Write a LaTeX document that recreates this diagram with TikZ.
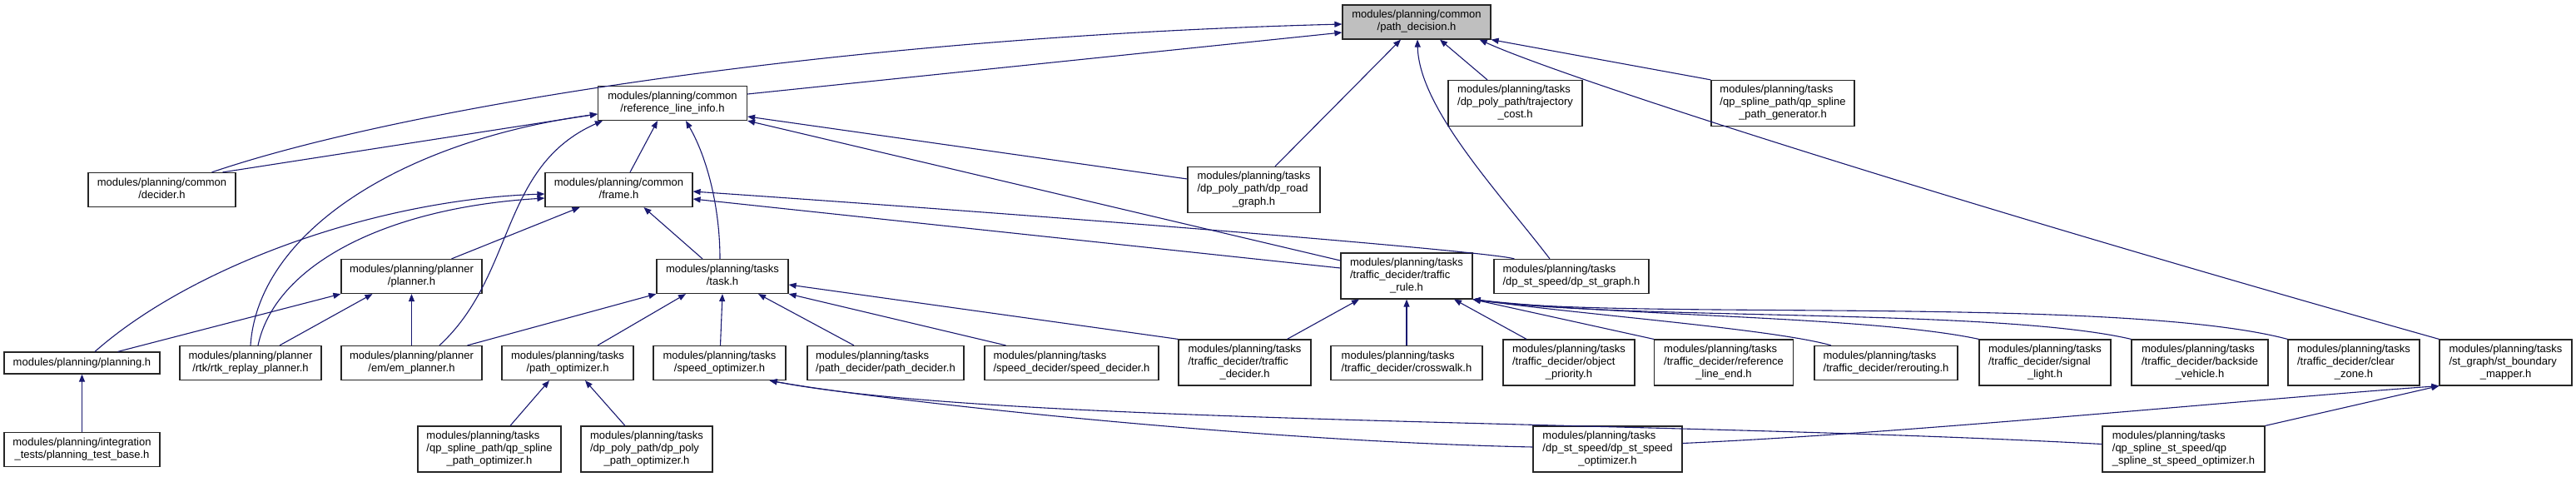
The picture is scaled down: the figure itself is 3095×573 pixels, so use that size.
\documentclass[tikz,border=0pt]{standalone}
\usepackage{fontspec}
\setmainfont{Liberation Sans}
\usetikzlibrary{arrows.meta}
\definecolor{EdgeBlue}{RGB}{25,25,112}
\definecolor{HeadGray}{RGB}{191,191,191}
\newcommand{\lbl}[2]{\begin{tabular}{@{}l@{}}#1\\\multicolumn{1}{@{}c@{}}{#2}\end{tabular}}

\begin{document}
\begin{tikzpicture}[x=1bp,y=-1bp,>={Triangle[length=9bp,width=7bp]},
    file/.style={draw=black!85,fill=white,line width=1.2bp,inner sep=0pt,
      font=\fontsize{13bp}{15bp}\selectfont},
    one/.style={minimum height=26bp},
    two/.style={minimum height=41bp},
    three/.style={minimum height=55bp},
    dep/.style={->,EdgeBlue,line width=1.1bp}]
  \fill[white] (0,0) rectangle (3095,573);
  \useasboundingbox (0,0) rectangle (3095,573);

  \node[file,two,fill=HeadGray,minimum width=178bp] (pathdec) at (1702,26.5) {\lbl{modules/planning/common}{/path\_decision.h}};
  \node[file,two,minimum width=179bp] (refline) at (808,124) {\lbl{modules/planning/common}{/reference\_line\_info.h}};
  \node[file,two,minimum width=177bp] (decider) at (194.5,228) {\lbl{modules/planning/common}{/decider.h}};
  \node[file,two,minimum width=177bp] (frame) at (743.5,228) {\lbl{modules/planning/common}{/frame.h}};
  \node[file,three,minimum width=161bp] (trajcost) at (1820.5,124) {\lbl{modules/planning/tasks\\/dp\_poly\_path/trajectory}{\_cost.h}};
  \node[file,three,minimum width=172bp] (qpgen) at (2142,124) {\lbl{modules/planning/tasks\\/qp\_spline\_path/qp\_spline}{\_path\_generator.h}};
  \node[file,three,minimum width=159bp] (dproad) at (1506.5,228) {\lbl{modules/planning/tasks\\/dp\_poly\_path/dp\_road}{\_graph.h}};

  \node[file,two,minimum width=169bp] (planner) at (494.5,332) {\lbl{modules/planning/planner}{/planner.h}};
  \node[file,two,minimum width=158bp] (task) at (868,332) {\lbl{modules/planning/tasks}{/task.h}};
  \node[file,three,minimum width=158bp] (trafficrule) at (1690,331.5) {\lbl{modules/planning/tasks\\/traffic\_decider/traffic}{\_rule.h}};
  \node[file,two,minimum width=186bp] (dpstgraph) at (1888,332) {\lbl{modules/planning/tasks}{/dp\_st\_speed/dp\_st\_graph.h}};

  \node[file,one,minimum width=187bp] (planning) at (98.5,436) {modules/planning/planning.h};
  \node[file,two,minimum width=170bp] (rtk) at (301,436) {\lbl{modules/planning/planner}{/rtk/rtk\_replay\_planner.h}};
  \node[file,two,minimum width=169bp] (em) at (494.5,436) {\lbl{modules/planning/planner}{/em/em\_planner.h}};
  \node[file,two,minimum width=158bp] (pathopt) at (682,436) {\lbl{modules/planning/tasks}{/path\_optimizer.h}};
  \node[file,two,minimum width=159bp] (speedopt) at (864.5,436) {\lbl{modules/planning/tasks}{/speed\_optimizer.h}};
  \node[file,two,minimum width=188bp] (pathdecider) at (1064,436) {\lbl{modules/planning/tasks}{/path\_decider/path\_decider.h}};
  \node[file,two,minimum width=209bp] (speeddecider) at (1287.5,436) {\lbl{modules/planning/tasks}{/speed\_decider/speed\_decider.h}};
  \node[file,three,minimum width=159bp] (trafficdecider) at (1495.5,435.5) {\lbl{modules/planning/tasks\\/traffic\_decider/traffic}{\_decider.h}};
  \node[file,two,minimum width=182bp] (crosswalk) at (1690,436) {\lbl{modules/planning/tasks}{/traffic\_decider/crosswalk.h}};
  \node[file,three,minimum width=158bp] (objprio) at (1885,435.5) {\lbl{modules/planning/tasks\\/traffic\_decider/object}{\_priority.h}};
  \node[file,three,minimum width=167bp] (reflineend) at (2071,435.5) {\lbl{modules/planning/tasks\\/traffic\_decider/reference}{\_line\_end.h}};
  \node[file,two,minimum width=172bp] (rerouting) at (2266,436) {\lbl{modules/planning/tasks}{/traffic\_decider/rerouting.h}};
  \node[file,three,minimum width=158bp] (signal) at (2457,435.5) {\lbl{modules/planning/tasks\\/traffic\_decider/signal}{\_light.h}};
  \node[file,three,minimum width=164bp] (backside) at (2643,435.5) {\lbl{modules/planning/tasks\\/traffic\_decider/backside}{\_vehicle.h}};
  \node[file,three,minimum width=158bp] (clearzone) at (2828,435.5) {\lbl{modules/planning/tasks\\/traffic\_decider/clear}{\_zone.h}};
  \node[file,three,minimum width=159bp] (stbound) at (3010.5,435.5) {\lbl{modules/planning/tasks\\/st\_graph/st\_boundary}{\_mapper.h}};

  \node[file,two,minimum width=187bp] (testbase) at (98.5,540) {\lbl{modules/planning/integration}{\_tests/planning\_test\_base.h}};
  \node[file,three,minimum width=172bp] (qppathopt) at (588,539.5) {\lbl{modules/planning/tasks\\/qp\_spline\_path/qp\_spline}{\_path\_optimizer.h}};
  \node[file,three,minimum width=158bp] (dppolyopt) at (777,539.5) {\lbl{modules/planning/tasks\\/dp\_poly\_path/dp\_poly}{\_path\_optimizer.h}};
  \node[file,three,minimum width=179bp] (dpstspeed) at (1931.5,539.5) {\lbl{modules/planning/tasks\\/dp\_st\_speed/dp\_st\_speed}{\_optimizer.h}};
  \node[file,three,minimum width=195bp] (qpstspeed) at (2623.5,539.5) {\lbl{modules/planning/tasks\\/qp\_spline\_st\_speed/qp}{\_spline\_st\_speed\_optimizer.h}};

  % path_decision.h
  \draw[dep] ([xshift=60bp]decider.north) .. controls (480,130) and (1000,45) .. ([yshift=-2.5bp]pathdec.west);
  \draw[dep] ([yshift=11bp]refline.east) -- ([yshift=-12.5bp]pathdec.west);
  \draw[dep] ([xshift=25.5bp]dproad.north) -- ([xshift=-19bp]pathdec.south);
  \draw[dep] ([xshift=-26bp]dpstgraph.north) .. controls (1800,230) and (1705,130) .. ([xshift=1bp]pathdec.south);
  \draw[dep] ([xshift=-33.5bp]trajcost.north) -- ([xshift=28bp]pathdec.south);
  \draw[dep] (stbound.north west) .. controls (2300,230) and (1870,90) .. ([xshift=-14bp]pathdec.south east);
  \draw[dep] (qpgen.north west) -- (pathdec.south east);

  % reference_line_info.h
  \draw[dep] ([xshift=73bp]decider.north) -- ([yshift=-13bp]refline.west);
  \draw[dep] (rtk.north) .. controls (310,280) and (480,170) .. ([yshift=-13bp]refline.west);
  \draw[dep] ([xshift=33.5bp]em.north) .. controls (620,330) and (600,200) .. ([xshift=6bp]refline.south west);
  \draw[dep] ([xshift=-3bp]task.north) .. controls (865,250) and (850,190) .. ([xshift=16bp]refline.south);
  \draw[dep] ([xshift=13.5bp]frame.north) -- ([xshift=-18bp]refline.south);
  \draw[dep] ([yshift=13bp]dproad.west) -- ([yshift=-16bp]refline.east);
  \draw[dep] ([yshift=18.5bp]trafficrule.west) -- (refline.south east);

  % frame.h
  \draw[dep] ([xshift=15.5bp]planning.north) .. controls (230,320) and (450,240) .. ([yshift=-5bp]frame.west);
  \draw[dep] ([xshift=9bp]rtk.north) .. controls (330,320) and (460,250) .. ([yshift=-10bp]frame.west);
  \draw[dep] ([xshift=48bp]planner.north) -- ([xshift=-47bp]frame.south);
  \draw[dep] ([xshift=-24bp]task.north) -- ([xshift=30bp]frame.south);
  \draw[dep] ([yshift=9.5bp]trafficrule.west) -- ([yshift=-11bp]frame.east);
  \draw[dep] ([xshift=25bp]dpstgraph.north west) .. controls (1790,302) and (1300,262) .. ([yshift=-2bp]frame.east);

  % planner.h and task.h
  \draw[dep] ([xshift=43bp]planning.north) -- (planner.south west);
  \draw[dep] ([xshift=35bp]rtk.north) -- ([xshift=-47bp]planner.south);
  \draw[dep] (em) -- (planner);
  \draw[dep] ([xshift=67bp]em.north) -- (task.south west);
  \draw[dep] ([xshift=36bp]pathopt.north) -- ([xshift=-44bp]task.south);
  \draw[dep] ([xshift=1bp]speedopt.north) -- (task.south);
  \draw[dep] ([xshift=-38bp]pathdecider.north) -- ([xshift=43bp]task.south);
  \draw[dep] ([xshift=-79bp]speeddecider.north) -- (task.south east);
  \draw[dep] (trafficdecider.north west) -- ([yshift=-10bp]task.east);

  % traffic_rule.h
  \draw[dep] ([xshift=51bp]trafficdecider.north) -- ([xshift=-57bp]trafficrule.south);
  \draw[dep] (crosswalk) -- (trafficrule);
  \draw[dep] ([xshift=-51bp]objprio.north) -- ([xshift=57bp]trafficrule.south);
  \draw[dep] (reflineend.north west) -- (trafficrule.south east);
  \draw[dep] ([xshift=-66bp]rerouting.north) .. controls (2130,395) and (1900,378) .. (trafficrule.south east);
  \draw[dep] (signal.north west) .. controls (2250,380) and (1950,380) .. (trafficrule.south east);
  \draw[dep] (backside.north west) .. controls (2400,370) and (1950,385) .. (trafficrule.south east);
  \draw[dep] (clearzone.north west) .. controls (2550,355) and (1950,385) .. (trafficrule.south east);

  % optimizers
  \draw[dep] ([xshift=25bp]qppathopt.north) -- ([xshift=-22bp]pathopt.south);
  \draw[dep] ([xshift=-26bp]dppolyopt.north) -- ([xshift=21bp]pathopt.south);
  \draw[dep] ([yshift=2.5bp]dpstspeed.west) .. controls (1500,530) and (1050,480) .. ([xshift=-20bp]speedopt.south east);
  \draw[dep] ([yshift=6bp]qpstspeed.west) .. controls (2000,505) and (1200,510) .. ([xshift=-20bp]speedopt.south east);
  \draw[dep] ([yshift=7bp]dpstspeed.east) .. controls (2300,520) and (2700,480) .. (stbound.south west);
  \draw[dep] (qpstspeed.north east) -- (stbound.south west);
  \draw[dep] (testbase) -- (planning);
\end{tikzpicture}
\end{document}
